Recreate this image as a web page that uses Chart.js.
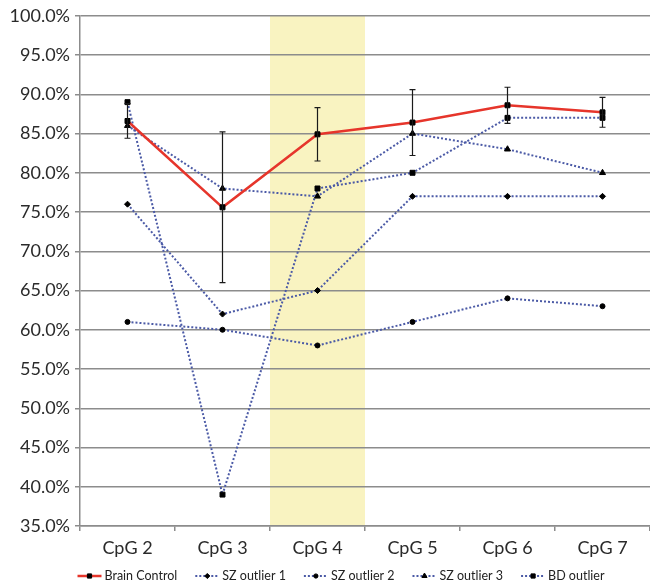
<!DOCTYPE html>
<html><head><meta charset="utf-8">
<script src="https://cdn.jsdelivr.net/npm/chart.js@4.4.0/dist/chart.umd.min.js"></script>
<style>html,body{margin:0;padding:0;background:#fff}#wrap{width:650px;height:583px;position:relative}</style>
</head><body><div id="wrap"><canvas id="c"></canvas></div>
<script>
const categories = ['CpG 2','CpG 3','CpG 4','CpG 5','CpG 6','CpG 7'];
const brainControl = [86.6, 75.6, 84.9, 86.4, 88.6, 87.7];
const brainControlErr = [2.2, 9.6, 3.4, 4.2, 2.3, 1.9];
const szOutlier1 = [76, 62, 65, 77, 77, 77];
const szOutlier2 = [61, 60, 58, 61, 64, 63];
const szOutlier3 = [86, 78, 77, 85, 83, 80];
const bdOutlier = [89, 39, 78, 80, 87, 87];
const seriesNames = ['Brain Control','SZ outlier 1','SZ outlier 2','SZ outlier 3','BD outlier'];
const yMin = 35, yMax = 100, yStep = 5;
const highlightCategory = 'CpG 4';

const RED = '#e6352b', BLUE = '#4b5aa6', GRID = '#8c8c8c', BAND = '#f9f3c1';
const FONT = 'Lato, "Open Sans", sans-serif';

function dotted(label, data, style, radius) {
  return { label, data, borderColor: BLUE, borderWidth: 2, borderDash: [2, 2],
    pointStyle: style, pointRadius: radius, pointHoverRadius: radius,
    pointBackgroundColor: '#000', pointBorderColor: '#000', pointBorderWidth: 1,
    fill: false, tension: 0 };
}

const datasets = [
  { label: seriesNames[0], data: brainControl, borderColor: RED, borderWidth: 2.5,
    pointStyle: 'rect', pointRadius: 3.5, pointHoverRadius: 3.5,
    pointBackgroundColor: '#000', pointBorderColor: '#000', pointBorderWidth: 1, fill: false, tension: 0 },
  dotted(seriesNames[1], szOutlier1, 'rectRot', 3),
  dotted(seriesNames[2], szOutlier2, 'circle', 2.5),
  dotted(seriesNames[3], szOutlier3, 'triangle', 3.5),
  dotted(seriesNames[4], bdOutlier, 'rect', 3.5)
];

const bandPlugin = {
  id: 'band',
  beforeDraw(chart) {
    const { ctx, chartArea, scales } = chart;
    ctx.save();
    ctx.fillStyle = '#fff';
    ctx.fillRect(0, 0, chart.width, chart.height);
    const x = scales.x;
    const i = categories.indexOf(highlightCategory);
    const half = (x.getPixelForValue(1) - x.getPixelForValue(0)) / 2;
    const cx = x.getPixelForValue(i);
    ctx.fillStyle = BAND;
    ctx.fillRect(cx - half, chartArea.top, half * 2, chartArea.bottom - chartArea.top);
    ctx.restore();
  }
};

const errPlugin = {
  id: 'errbars',
  afterDatasetsDraw(chart) {
    const { ctx, scales } = chart;
    ctx.save();
    ctx.strokeStyle = '#1a1a1a';
    ctx.lineWidth = 1.2;
    brainControl.forEach((v, i) => {
      const x = scales.x.getPixelForValue(i);
      const yt = scales.y.getPixelForValue(v + brainControlErr[i]);
      const yb = scales.y.getPixelForValue(v - brainControlErr[i]);
      ctx.beginPath();
      ctx.moveTo(x, yt); ctx.lineTo(x, yb);
      ctx.moveTo(x - 3, yt); ctx.lineTo(x + 3, yt);
      ctx.moveTo(x - 3, yb); ctx.lineTo(x + 3, yb);
      ctx.stroke();
    });
    ctx.restore();
  }
};

const legendPlugin = {
  id: 'customLegend',
  afterDraw(chart) {
    const { ctx } = chart;
    ctx.save();
    ctx.font = '12.5px ' + FONT;
    ctx.textBaseline = 'middle';
    const lineLen = 24, gapText = 3, gapItem = 18, y = 576;
    const widths = chart.data.datasets.map(d => lineLen + gapText + ctx.measureText(d.label).width);
    const total = widths.reduce((a, b) => a + b, 0) + gapItem * (widths.length - 1);
    let x = 341 - total / 2;
    chart.data.datasets.forEach((d, k) => {
      ctx.save();
      ctx.strokeStyle = d.borderColor;
      ctx.lineWidth = d.borderWidth;
      ctx.setLineDash(d.borderDash || []);
      ctx.beginPath();
      ctx.moveTo(x, y); ctx.lineTo(x + lineLen, y);
      ctx.stroke();
      ctx.restore();
      ctx.fillStyle = '#000';
      ctx.strokeStyle = '#000';
      ctx.lineWidth = 1;
      Chart.helpers.drawPoint(ctx, { pointStyle: d.pointStyle, radius: d.pointRadius * 0.85, rotation: 0, borderWidth: 1 }, x + lineLen / 2, y);
      ctx.fillStyle = '#222';
      ctx.textAlign = 'left';
      ctx.fillText(d.label, x + lineLen + gapText, y);
      x += widths[k] + gapItem;
    });
    ctx.restore();
  }
};

new Chart(document.getElementById('c'), {
  type: 'line',
  data: { labels: categories, datasets },
  plugins: [bandPlugin, errPlugin, legendPlugin],
  options: {
    responsive: true, maintainAspectRatio: false, animation: false,
    layout: { autoPadding: false, padding: { top: 15, right: -2, left: 0, bottom: 0 } },
    plugins: { legend: { display: false }, tooltip: { enabled: false } },
    scales: {
      x: {
        offset: true,
        afterFit(s) { s.height = 57; },
        grid: { offset: true, drawOnChartArea: false, drawTicks: true, tickLength: 5, color: GRID, lineWidth: 1.5 },
        border: { display: true, color: GRID, width: 1.5 },
        ticks: { color: '#2a2a2a', font: { family: FONT, size: 18 }, padding: 6, maxRotation: 0, autoSkip: false }
      },
      y: {
        min: yMin, max: yMax,
        afterFit(s) { s.width = 80; },
        grid: { color: GRID, lineWidth: 1.5, drawTicks: true, tickLength: 5 },
        border: { display: true, color: GRID, width: 1.5 },
        ticks: { stepSize: yStep, color: '#2a2a2a', padding: 5, font: { family: FONT, size: 18 },
          callback: v => v.toFixed(1) + '%' }
      }
    }
  }
});
</script></body></html>
